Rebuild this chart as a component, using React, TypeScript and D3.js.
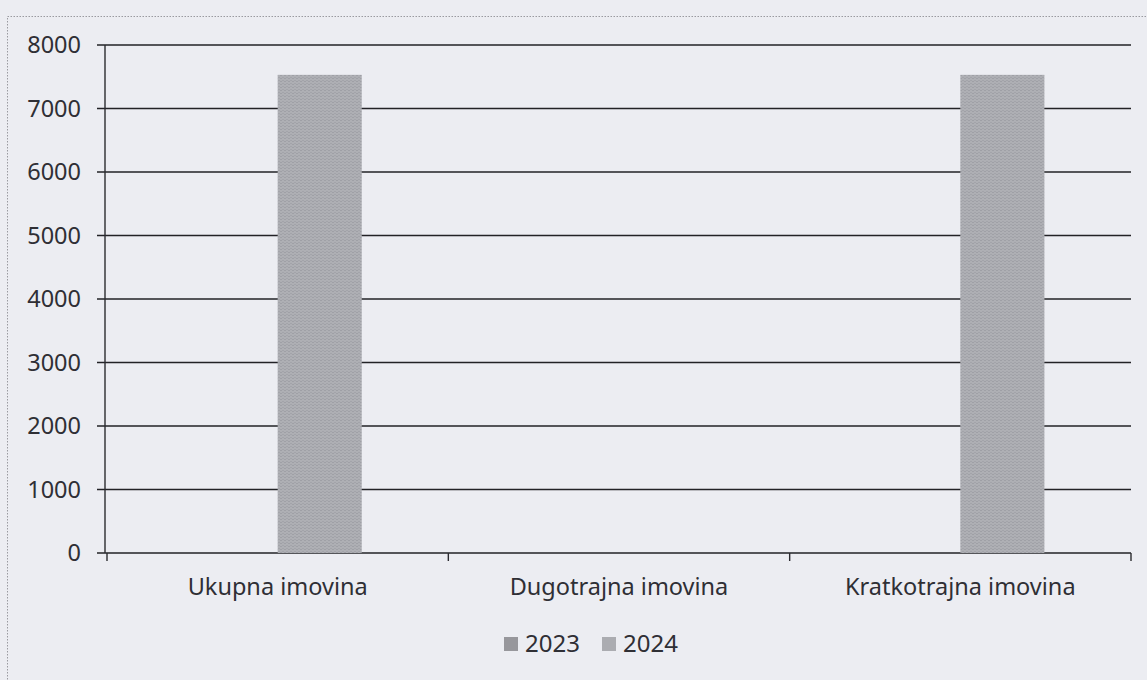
import React from "react";
import * as d3 from "d3";

const categories = ["Ukupna imovina", "Dugotrajna imovina", "Kratkotrajna imovina"];
const seriesNames = ["2023", "2024"];
const values2023 = [0, 0, 0];
const values2024 = [7530, 0, 7530];
const yTicks = [0, 1000, 2000, 3000, 4000, 5000, 6000, 7000, 8000];

const W = 1147;
const H = 680;
const left = 107;
const right = 1131;
const top = 45;
const bottom = 553;
const font = "'Noto Sans', 'Liberation Sans', sans-serif";
const colors = ["#97979c", "#abacb1"];

export default function App() {
  const x = d3.scaleBand<string>().domain(categories).range([left, right]).paddingInner(0).paddingOuter(0);
  const x1 = d3.scaleBand<string>().domain(seriesNames).range([0, x.bandwidth()]).paddingInner(0).paddingOuter(1.03);
  const y = d3.scaleLinear().domain([0, 8000]).range([bottom, top]);
  const series = [values2023, values2024];
  return (
    <svg width={W} height={H} style={{ position: "absolute", left: 0, top: 0, background: "#ecedf2" }}>
      <defs>
        <pattern id="noise" width="4" height="3" patternUnits="userSpaceOnUse">
          <rect width="4" height="3" fill="#aeafb4" />
          <rect x="0" y="0" width="2" height="1" fill="#9fa0a6" />
          <rect x="2" y="2" width="2" height="1" fill="#a3a4aa" />
        </pattern>
      </defs>
      <rect x={7.5} y={16.5} width={1160} height={700} fill="none" stroke="#9a9aa0" strokeDasharray="1.5 1.5" strokeWidth={1} />
      {yTicks.map((t) => (
        <g key={t}>
          <line x1={left - 10} x2={right} y1={y(t)} y2={y(t)} stroke="#222226" strokeWidth={1.7} />
          <text x={81} y={y(t)} dy="0.35em" textAnchor="end" fontFamily={font} fontSize={23.5} fill="#2f2f35">{t}</text>
        </g>
      ))}
      <line x1={left - 2} x2={left - 2} y1={top} y2={bottom} stroke="#2b2b30" strokeWidth={1.4} />
      {series.map((vals, si) =>
        categories.map((c, ci) =>
          vals[ci] > 0 ? (
            <rect key={`${si}-${ci}`} x={(x(c) as number) + (x1(seriesNames[si]) as number)} y={y(vals[ci])}
              width={x1.bandwidth()} height={y(0) - y(vals[ci])} fill="url(#noise)" />
          ) : null
        )
      )}
      {[...categories.map((c) => x(c) as number), right].map((p, i) => (
        <line key={i} x1={p} x2={p} y1={bottom} y2={bottom + 8} stroke="#2b2b30" strokeWidth={1.4} />
      ))}
      {categories.map((c) => (
        <text key={c} x={(x(c) as number) + x.bandwidth() / 2} y={595} textAnchor="middle" fontFamily={font} fontSize={23.5} fill="#2f2f35">{c}</text>
      ))}
      {seriesNames.map((s, i) => (
        <g key={s} transform={`translate(${504 + i * 98},${644})`}>
          <rect x={0} y={-7} width={14} height={14} fill={colors[i]} />
          <text x={21} y={0} dy="0.35em" fontFamily={font} fontSize={24} fill="#2f2f35">{s}</text>
        </g>
      ))}
    </svg>
  );
}
